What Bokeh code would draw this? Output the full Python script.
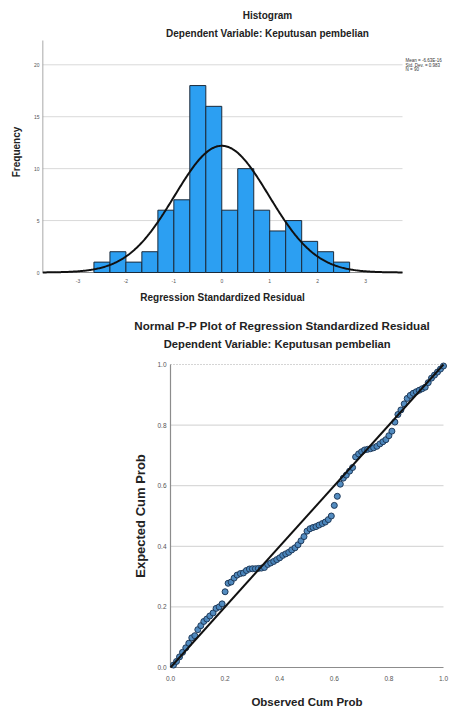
import numpy as np
from bokeh.plotting import figure
from bokeh.models import Range1d, FixedTicker
from bokeh.core.properties import value
from bokeh.embed import file_html
from bokeh.resources import INLINE

# ---------------- data ----------------
bin_left = [-2.667, -2.333, -2.0, -1.667, -1.333, -1.0, -0.667, -0.333,
            0.0, 0.333, 0.667, 1.0, 1.333, 1.667, 2.0, 2.333]
bin_right = [-2.333, -2.0, -1.667, -1.333, -1.0, -0.667, -0.333, 0.0,
             0.333, 0.667, 1.0, 1.333, 1.667, 2.0, 2.333, 2.667]
counts = [1, 2, 1, 2, 6, 7, 18, 16, 6, 10, 6, 4, 5, 3, 2, 1]
hist_xticks = [-3, -2, -1, 0, 1, 2, 3]
hist_xtick_labels = ["-3", "-2", "-1", "0", "1", "2", "3"]
hist_yticks = [0, 5, 10, 15, 20]
hist_grid = [5, 10, 15, 20]
mean_val = 0.0
sd_val = 0.983
n_val = 90
legend_lines = ["Mean = -6.63E-16", "Std. Dev. = 0.983", "N = 90"]

observed = [0.011, 0.022, 0.033, 0.044, 0.056, 0.067, 0.078, 0.089, 0.100, 0.111,
            0.122, 0.133, 0.144, 0.156, 0.167, 0.178, 0.189, 0.200, 0.211, 0.222,
            0.233, 0.244, 0.256, 0.267, 0.278, 0.289, 0.300, 0.311, 0.322, 0.333,
            0.344, 0.356, 0.367, 0.378, 0.389, 0.400, 0.411, 0.422, 0.433, 0.444,
            0.456, 0.467, 0.478, 0.489, 0.500, 0.511, 0.522, 0.533, 0.544, 0.556,
            0.567, 0.578, 0.589, 0.600, 0.611, 0.622, 0.633, 0.644, 0.656, 0.667,
            0.678, 0.689, 0.700, 0.711, 0.722, 0.733, 0.744, 0.756, 0.767, 0.778,
            0.789, 0.800, 0.811, 0.822, 0.833, 0.844, 0.856, 0.867, 0.878, 0.889,
            0.900, 0.911, 0.922, 0.933, 0.944, 0.956, 0.967, 0.978, 0.989, 1.000]
expected = [0.008, 0.020, 0.035, 0.050, 0.065, 0.080, 0.098, 0.105, 0.125, 0.138,
            0.152, 0.160, 0.170, 0.180, 0.195, 0.200, 0.210, 0.250, 0.278, 0.282,
            0.295, 0.305, 0.310, 0.312, 0.320, 0.325, 0.326, 0.326, 0.327, 0.328,
            0.330, 0.340, 0.345, 0.350, 0.356, 0.362, 0.370, 0.375, 0.380, 0.388,
            0.395, 0.405, 0.418, 0.432, 0.450, 0.458, 0.462, 0.465, 0.470, 0.475,
            0.480, 0.488, 0.500, 0.535, 0.565, 0.605, 0.625, 0.635, 0.648, 0.660,
            0.695, 0.705, 0.712, 0.718, 0.720, 0.722, 0.725, 0.730, 0.738, 0.745,
            0.752, 0.765, 0.780, 0.810, 0.835, 0.850, 0.870, 0.888, 0.898, 0.905,
            0.910, 0.915, 0.920, 0.925, 0.940, 0.955, 0.965, 0.975, 0.985, 0.995]
pp_ticks = [0.0, 0.2, 0.4, 0.6, 0.8, 1.0]
pp_tick_labels = ["0.0", "0.2", "0.4", "0.6", "0.8", "1.0"]
pp_grid = [0.2, 0.4, 0.6, 0.8]

FONT = "Liberation Sans"
TICK_COLOR = "#555555"
GRID_COLOR = "#d9d9d9"
AXIS_COLOR = "#8c8c8c"
TITLE_COLOR = "#222222"

# ---------------- histogram ----------------
# plotting area: x -3.74..3.77 over 360 px, y 0..22.34 over 232 px;
# the frame is extended right, up and down so that every text stays inside it.
HX0, HX1, HY1 = -3.74, 3.77, 22.34
XPP = (HX1 - HX0) / 360.0   # data per pixel (x)
YPP = HY1 / 232.0           # data per pixel (y)
h = figure(width=450, height=303, output_backend="svg", toolbar_location=None,
           x_range=Range1d(HX0, HX0 + 408 * XPP), y_range=Range1d(-31 * YPP, 272 * YPP),
           min_border_left=42, min_border_right=0, min_border_top=0, min_border_bottom=0)
h.outline_line_color = None
h.background_fill_color = "white"
h.border_fill_color = "white"
h.xgrid.visible = False
h.ygrid.visible = False
h.xaxis.visible = False

h.segment(x0=[HX0] * len(hist_grid), x1=[HX1] * len(hist_grid), y0=hist_grid, y1=hist_grid,
          line_color=GRID_COLOR, line_width=1)
h.segment(x0=[HX0], x1=[HX1], y0=[0], y1=[0], line_color=AXIS_COLOR, line_width=1)
h.segment(x0=[HX0], x1=[HX0], y0=[0], y1=[HY1], line_color=AXIS_COLOR, line_width=1.5)

h.quad(left=bin_left, right=bin_right, top=counts, bottom=0,
       fill_color="#2c9ff2", line_color="#1b2a3a", line_width=1)

bw = bin_right[0] - bin_left[0]
xs = np.linspace(HX0, HX1, 400)
ys = n_val * bw / (sd_val * np.sqrt(2 * np.pi)) * np.exp(-(xs - mean_val) ** 2 / (2 * sd_val ** 2))
h.line(xs, ys, line_color="#111111", line_width=2)

ya = h.yaxis[0]
ya.major_tick_out = 0
ya.major_tick_in = 0
ya.minor_tick_out = 0
ya.minor_tick_in = 0
ya.axis_line_color = None
ya.ticker = FixedTicker(ticks=hist_yticks)
ya.major_label_text_font = FONT
ya.major_label_text_font_size = "5px"
ya.major_label_text_color = TICK_COLOR
ya.major_label_standoff = 3
ya.axis_label = "Frequency"
ya.axis_label_text_font = FONT
ya.axis_label_text_font_style = "bold"
ya.axis_label_text_font_size = "10px"
ya.axis_label_text_color = TITLE_COLOR
ya.axis_label_standoff = 9

h.text(x=hist_xticks, y=[-8 * YPP] * len(hist_xticks), text=hist_xtick_labels,
       text_font=value(FONT), text_font_size=value("5px"), text_color=TICK_COLOR,
       text_align="center", text_baseline="middle")
h.text(x=[(HX0 + HX1) / 2], y=[-25 * YPP], text=["Regression Standardized Residual"],
       text_font=value(FONT), text_font_style="bold", text_font_size=value("10px"),
       text_color=TITLE_COLOR, text_align="center", text_baseline="middle")

h.text(x=[HX0 + 225 * XPP, HX0 + 225 * XPP], y=[257 * YPP, 239 * YPP],
       text=["Histogram", "Dependent Variable: Keputusan pembelian"],
       text_font=value(FONT), text_font_style="bold", text_font_size=value("10px"),
       text_color=TITLE_COLOR, text_align="center", text_baseline="middle")
h.text(x=[HX0 + 363 * XPP] * 3, y=[212 * YPP, 207.5 * YPP, 203 * YPP], text=legend_lines,
       text_font=value(FONT), text_font_size=value("4.5px"), text_color="#333333",
       text_align="left", text_baseline="middle")

# ---------------- P-P plot ----------------
# plotting area: 0..1 over 273 x 303 px, starting 170 px from the left and
# 41 px above the bottom; the frame covers the whole figure, all texts are glyphs.
PXP = 1.0 / 273.0
PYP = 1.0 / 303.0
p = figure(width=450, height=405, output_backend="svg", toolbar_location=None,
           x_range=Range1d(-170 * PXP, 280 * PXP), y_range=Range1d(-41 * PYP, 364 * PYP),
           min_border_left=0, min_border_right=0, min_border_top=0, min_border_bottom=0)
p.outline_line_color = None
p.background_fill_color = "white"
p.border_fill_color = "white"
p.xgrid.visible = False
p.ygrid.visible = False
p.xaxis.visible = False
p.yaxis.visible = False

p.segment(x0=[0] * len(pp_grid), x1=[1] * len(pp_grid), y0=pp_grid, y1=pp_grid,
          line_color=GRID_COLOR, line_width=1.2)
p.segment(x0=[0], x1=[1], y0=[1], y1=[1], line_color="#aaaaaa", line_dash="1 2", line_width=1)
p.segment(x0=[0], x1=[1], y0=[0], y1=[0], line_color=AXIS_COLOR, line_width=1.2)
p.segment(x0=[0], x1=[0], y0=[0], y1=[1], line_color=AXIS_COLOR, line_width=1.2)

p.scatter(observed, expected, size=6, fill_color="#4a86bd", line_color="#1f3a5a",
          line_width=1, fill_alpha=0.95)
p.line([0, 1], [0, 1], line_color="#111111", line_width=2)

# tick labels
p.text(x=pp_ticks, y=[-11 * PYP] * len(pp_ticks), text=pp_tick_labels,
       text_font=value(FONT), text_font_size=value("6.5px"), text_color=TICK_COLOR,
       text_align="center", text_baseline="middle")
p.text(x=[-4 * PXP] * len(pp_ticks), y=pp_ticks, text=pp_tick_labels,
       text_font=value(FONT), text_font_size=value("6.5px"), text_color=TICK_COLOR,
       text_align="right", text_baseline="middle")

# axis titles
p.text(x=[0.5], y=[-34 * PYP], text=["Observed Cum Prob"],
       text_font=value(FONT), text_font_style="bold", text_font_size=value("11.5px"),
       text_color=TITLE_COLOR, text_align="center", text_baseline="middle")
p.text(x=[-30 * PXP], y=[0.5], text=["Expected Cum Prob"], angle=np.pi / 2,
       text_font=value(FONT), text_font_style="bold", text_font_size=value("13px"),
       text_color=TITLE_COLOR, text_align="center", text_baseline="middle")

# chart titles
p.text(x=[111.7 * PXP], y=[342 * PYP],
       text=["Normal P-P Plot of Regression Standardized Residual"],
       text_font=value(FONT), text_font_style="bold", text_font_size=value("11.6px"),
       text_color=TITLE_COLOR, text_align="center", text_baseline="middle")
p.text(x=[106.7 * PXP], y=[324 * PYP],
       text=["Dependent Variable: Keputusan pembelian"],
       text_font=value(FONT), text_font_style="bold", text_font_size=value("11.2px"),
       text_color=TITLE_COLOR, text_align="center", text_baseline="middle")

open("out.html", "w").write(file_html([h, p], INLINE))
